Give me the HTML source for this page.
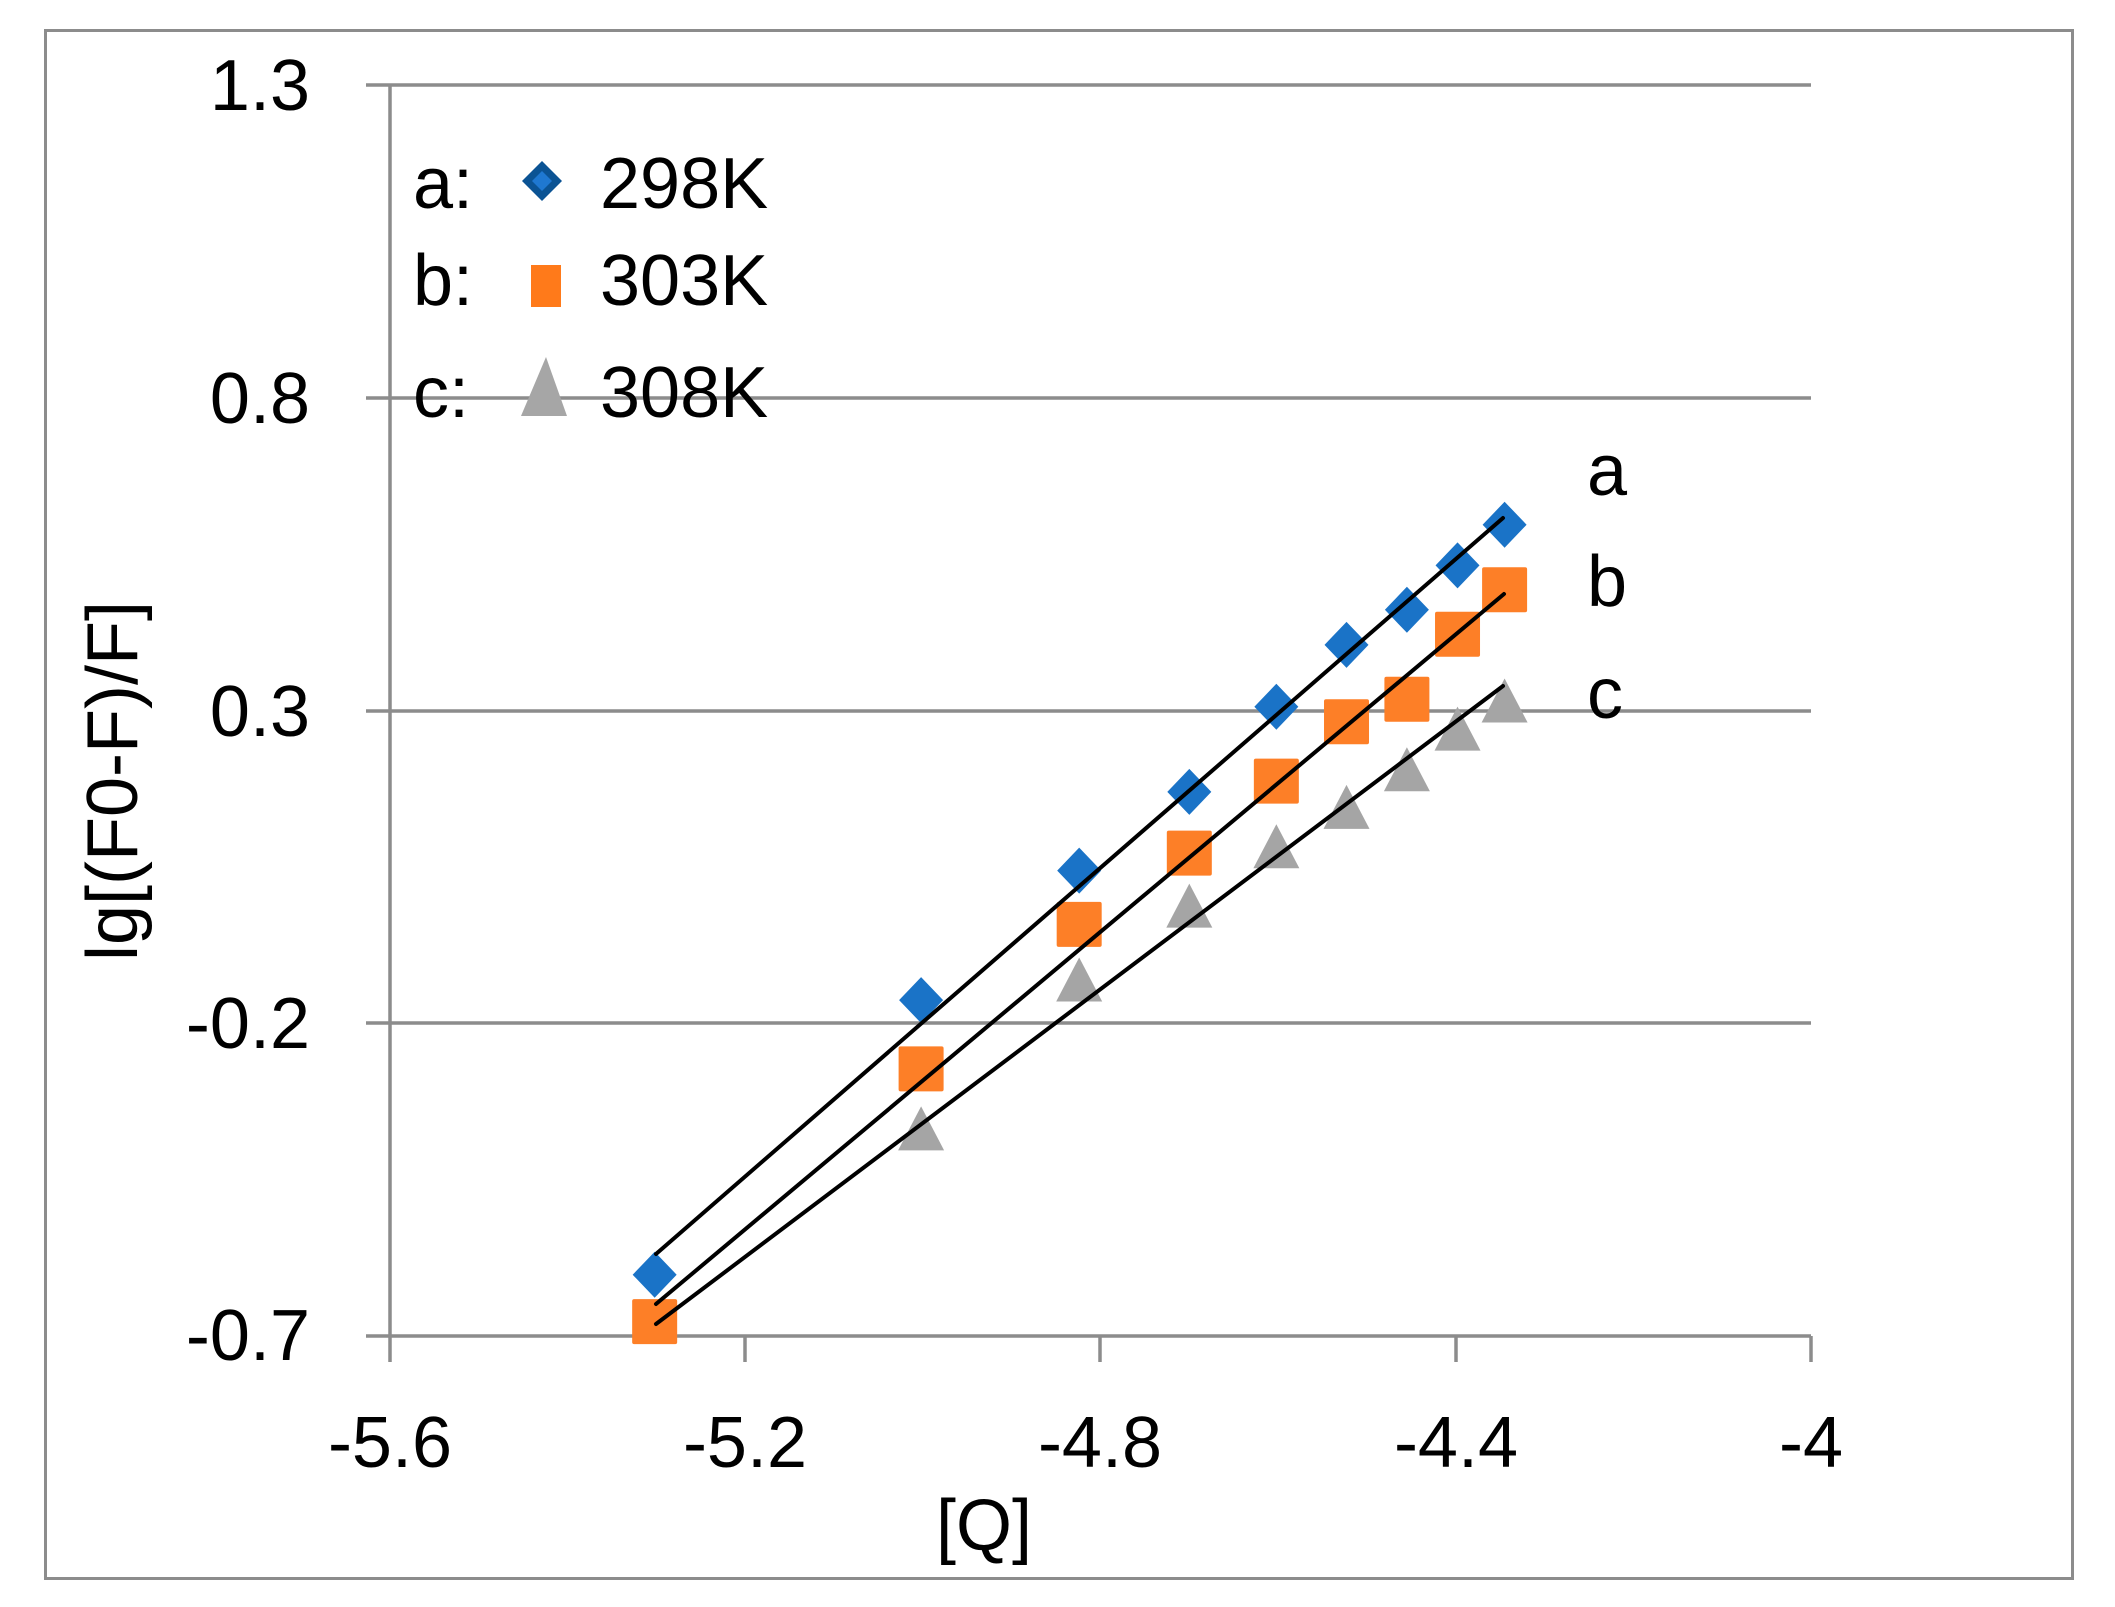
<!DOCTYPE html>
<html><head><meta charset="utf-8"><style>
html,body{margin:0;padding:0;background:#fff;}
svg{display:block;}
text{font-family:"Liberation Sans",sans-serif;fill:#000;}
</style></head><body>
<svg id="s" width="2115" height="1607" viewBox="0 0 2115 1607" xmlns="http://www.w3.org/2000/svg">
<rect x="45.5" y="30.5" width="2027" height="1548" fill="#fff" stroke="#8c8c8c" stroke-width="3"/>
<g stroke="#8c8c8c" stroke-width="3.5">
<line x1="366" y1="85" x2="1811" y2="85"/>
<line x1="366" y1="398" x2="1811" y2="398"/>
<line x1="366" y1="711" x2="1811" y2="711"/>
<line x1="366" y1="1023" x2="1811" y2="1023"/>
<line x1="366" y1="1336" x2="1811" y2="1336"/>
<line x1="390" y1="85" x2="390" y2="1362"/>
<line x1="745" y1="1336" x2="745" y2="1362"/>
<line x1="1100" y1="1336" x2="1100" y2="1362"/>
<line x1="1456" y1="1336" x2="1456" y2="1362"/>
<line x1="1811" y1="1336" x2="1811" y2="1362"/>
</g>
<g font-size="72" text-anchor="end">
<text x="310" y="110">1.3</text>
<text x="310" y="423">0.8</text>
<text x="310" y="736">0.3</text>
<text x="310" y="1048">-0.2</text>
<text x="310" y="1360">-0.7</text>
</g>
<g font-size="72" text-anchor="middle">
<text x="390" y="1467">-5.6</text>
<text x="745" y="1467">-5.2</text>
<text x="1100" y="1467">-4.8</text>
<text x="1456" y="1467">-4.4</text>
<text x="1811" y="1467">-4</text>
<text x="984" y="1550">[Q]</text>
</g>
<text font-size="72" text-anchor="middle" transform="translate(137,781) rotate(-90)">lg[(F0-F)/F]</text>
<g id="pts"></g>
<g stroke="#000" stroke-width="4" stroke-linecap="round">
<line x1="656" y1="1254" x2="1503" y2="518"/>
<line x1="656" y1="1304" x2="1504" y2="594"/>
<line x1="656" y1="1324" x2="1503" y2="686"/>
</g>
<g font-size="72">
<text x="413" y="208">a:</text>
<text x="413" y="305">b:</text>
<text x="413" y="417">c:</text>
<text x="600" y="208">298K</text>
<text x="600" y="305">303K</text>
<text x="600" y="417">308K</text>
<text x="1587" y="495">a</text>
<text x="1587" y="606">b</text>
<text x="1587" y="718">c</text>
</g>
<polygon points="542,161 562,181 542,201 522,181" fill="#0b5394"/>
<polygon points="542,171 552,181 542,191 532,181" fill="#1f78d1"/>
<rect x="531" y="265" width="30" height="42" fill="#ff7a1a"/>
<polygon points="546,357 567,416 521,416" fill="#a6a6a6"/>
</svg>
<script>
var X=function(x){return 390+(x+5.6)*888.125;},Y=function(y){return 1336-(y+0.7)*625.5;};
var blue=[[-5.302,-0.602],[-5.002,-0.163],[-4.824,0.044],[-4.7,0.170],[-4.602,0.306],[-4.523,0.405],[-4.455,0.461],[-4.398,0.532],[-4.345,0.597]];
var orng=[[-5.302,-0.677],[-5.002,-0.273],[-4.824,-0.042],[-4.7,0.072],[-4.602,0.187],[-4.523,0.282],[-4.455,0.318],[-4.398,0.422],[-4.345,0.493]];
var gray=[[-5.002,-0.368],[-4.824,-0.130],[-4.7,-0.012],[-4.602,0.083],[-4.523,0.146],[-4.455,0.206],[-4.398,0.271],[-4.345,0.316]];
var h='';
gray.forEach(function(p){var x=X(p[0]),y=Y(p[1]);h+='<polygon points="'+x+','+(y-22)+' '+(x+23)+','+(y+22)+' '+(x-23)+','+(y+22)+'" fill="#a5a5a5"/>';});
orng.forEach(function(p){var x=X(p[0]),y=Y(p[1]);h+='<rect x="'+(x-22.5)+'" y="'+(y-22.5)+'" width="45" height="45" rx="2" fill="#fd7f27"/>';});
blue.forEach(function(p){var x=X(p[0]),y=Y(p[1]);h+='<polygon points="'+x+','+(y-23)+' '+(x+22)+','+y+' '+x+','+(y+23)+' '+(x-22)+','+y+'" fill="#1a73c7"/>';});
document.getElementById('pts').innerHTML=h;
</script>
</body></html>
